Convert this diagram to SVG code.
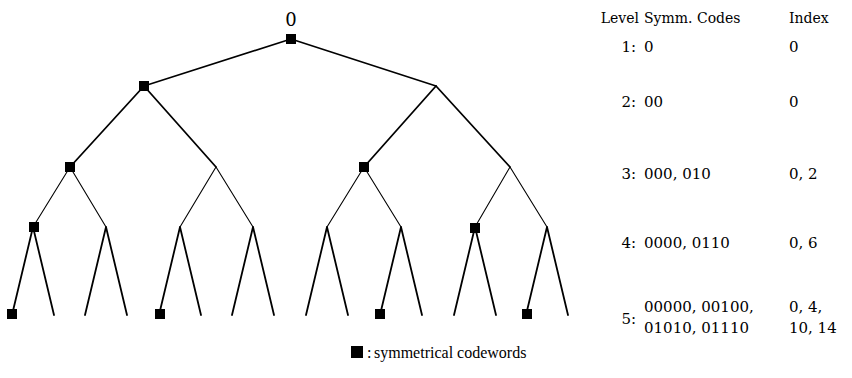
<svg xmlns="http://www.w3.org/2000/svg" width="852" height="378" viewBox="0 0 852 378">
  <style>
    .edge { stroke: #000; fill: none; stroke-linecap: round; }
    .w1 { stroke-width: 1.6; }
    .w2 { stroke-width: 1.8; }
    .w3 { stroke-width: 1.1; }
    .w4 { stroke-width: 1.8; }
    .sym { fill: #000; }
    .tbl { font-family: "DejaVu Serif", "Liberation Serif", serif; font-size: 15px; fill: #000; }
    .hdr { font-size: 14px; }
    .lab { font-family: "Liberation Serif", serif; font-size: 16px; fill: #000; }
    .root { font-family: "DejaVu Serif", "Liberation Serif", serif; font-size: 18px; fill: #000; }
  </style>
  <defs>
    <rect id="sq" x="-5" y="-5" width="10" height="10"/>
  </defs>
  <rect width="852" height="378" fill="#fff"/>

  <!-- binary code tree -->
  <g id="connectors">
    <!-- level 1 to 2 -->
    <path class="edge w1" d="M291 39 L144 86 M291 39 L436 86"/>
    <!-- level 2 to 3 -->
    <path class="edge w2" d="M144 86 L70 167 M144 86 L216 167 M436 86 L364 167 M436 86 L510 167"/>
    <!-- level 3 to 4 -->
    <path class="edge w3" d="M70 167 L33 227 M70 167 L106 227 M216 167 L180 227 M216 167 L253 227 M364 167 L327 227 M364 167 L401 227 M510 167 L475 227 M510 167 L547 227"/>
    <!-- level 4 to 5 -->
    <path class="edge w4" d="M33 227 L12 315 M33 227 L54 315 M106 227 L85 315 M106 227 L127 315 M180 227 L159 315 M180 227 L201 315 M253 227 L232 315 M253 227 L274 315 M327 227 L306 315 M327 227 L348 315 M401 227 L380 315 M401 227 L422 315 M475 227 L454 315 M475 227 L496 315 M547 227 L526 315 M547 227 L568 315"/>
  </g>

  <!-- root -->
  <g id="node-root">
    <text class="root" x="291" y="26" text-anchor="middle">0</text>
    <use href="#sq" class="sym" x="291" y="39"/>
  </g>
  <!-- symmetrical codeword nodes -->
  <g id="node-00"><use href="#sq" class="sym" x="144" y="86"/></g>
  <g id="node-000"><use href="#sq" class="sym" x="70" y="167"/></g>
  <g id="node-010"><use href="#sq" class="sym" x="364" y="167"/></g>
  <g id="node-0000"><use href="#sq" class="sym" x="34" y="227"/></g>
  <g id="node-0110"><use href="#sq" class="sym" x="475" y="228"/></g>
  <g id="node-00000"><use href="#sq" class="sym" x="12" y="314"/></g>
  <g id="node-00100"><use href="#sq" class="sym" x="160" y="314"/></g>
  <g id="node-01010"><use href="#sq" class="sym" x="380" y="314"/></g>
  <g id="node-01110"><use href="#sq" class="sym" x="527" y="314"/></g>

  <!-- table of symmetrical codes per level -->
  <g id="table" class="tbl">
    <text class="hdr" x="639" y="23" text-anchor="end">Level</text>
    <text class="hdr" x="644" y="23">Symm. Codes</text>
    <text class="hdr" x="789" y="23">Index</text>

    <text x="636" y="52" text-anchor="end">1:</text>
    <text x="644" y="52">0</text>
    <text x="789" y="52">0</text>

    <text x="636" y="107" text-anchor="end">2:</text>
    <text x="644" y="107">00</text>
    <text x="789" y="107">0</text>

    <text x="636" y="179" text-anchor="end">3:</text>
    <text x="644" y="179">000, 010</text>
    <text x="789" y="179">0, 2</text>

    <text x="636" y="248" text-anchor="end">4:</text>
    <text x="644" y="248">0000, 0110</text>
    <text x="789" y="248">0, 6</text>

    <text x="636" y="324" text-anchor="end">5:</text>
    <text x="644" y="312">00000, 00100,</text>
    <text x="789" y="312">0, 4,</text>
    <text x="644" y="333">01010, 01110</text>
    <text x="789" y="333">10, 14</text>
  </g>

  <!-- legend -->
  <g id="legend">
    <rect class="sym" x="351" y="346" width="12" height="12"/>
    <text class="lab" x="367" y="358">:</text>
    <text class="lab" x="374" y="358">symmetrical codewords</text>
  </g>
</svg>
